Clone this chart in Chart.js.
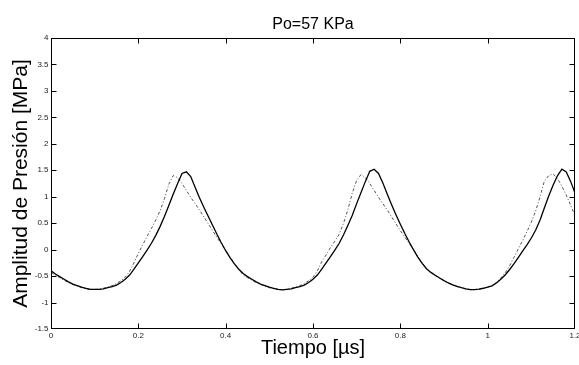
<!DOCTYPE html>
<html>
<head>
<meta charset="utf-8">
<script src="https://cdn.jsdelivr.net/npm/chart.js@4"></script>
<style>
html,body{margin:0;padding:0;background:#fff;}
canvas{display:block;}
</style>
</head>
<body>
<canvas id="c" width="579" height="365"></canvas>
<script>
const titleText = 'Po=57 KPa';
const xTitle = 'Tiempo [µs]';
const yTitle = 'Amplitud de Presión [MPa]';
const xTicks = [0, 0.2, 0.4, 0.6, 0.8, 1, 1.2];
const yTicks = [-1.5, -1, -0.5, 0, 0.5, 1, 1.5, 2, 2.5, 3, 3.5, 4];

const times = [
0.00,0.01,0.02,0.03,0.04,0.05,0.06,0.07,0.08,0.09,
0.10,0.11,0.12,0.13,0.14,0.15,0.16,0.17,0.18,0.19,
0.20,0.21,0.22,0.23,0.24,0.25,0.26,0.27,0.28,0.29,
0.30,0.31,0.32,0.33,0.34,0.35,0.36,0.37,0.38,0.39,
0.40,0.41,0.42,0.43,0.44,0.45,0.46,0.47,0.48,0.49,
0.50,0.51,0.52,0.53,0.54,0.55,0.56,0.57,0.58,0.59,
0.60,0.61,0.62,0.63,0.64,0.65,0.66,0.67,0.68,0.69,
0.70,0.71,0.72,0.73,0.74,0.75,0.76,0.77,0.78,0.79,
0.80,0.81,0.82,0.83,0.84,0.85,0.86,0.87,0.88,0.89,
0.90,0.91,0.92,0.93,0.94,0.95,0.96,0.97,0.98,0.99,
1.00,1.01,1.02,1.03,1.04,1.05,1.06,1.07,1.08,1.09,
1.10,1.11,1.12,1.13,1.14,1.15,1.16,1.17,1.18,1.19,1.20];

const solidSeries = [
-0.40,-0.46,-0.51,-0.56,-0.61,-0.65,-0.68,-0.71,-0.73,-0.75,
-0.75,-0.75,-0.74,-0.72,-0.70,-0.67,-0.62,-0.56,-0.48,-0.37,
-0.25,-0.13,-0.01,0.12,0.27,0.44,0.63,0.84,1.05,1.25,
1.44,1.47,1.38,1.18,0.98,0.80,0.63,0.46,0.29,0.13,
-0.02,-0.15,-0.27,-0.37,-0.45,-0.51,-0.56,-0.61,-0.65,-0.68,
-0.71,-0.73,-0.75,-0.76,-0.75,-0.74,-0.72,-0.70,-0.67,-0.62,
-0.56,-0.48,-0.37,-0.25,-0.13,-0.01,0.12,0.28,0.46,0.65,
0.87,1.08,1.29,1.48,1.52,1.44,1.26,1.05,0.85,0.66,
0.48,0.31,0.15,0.00,-0.14,-0.26,-0.36,-0.43,-0.485,-0.535,
-0.585,-0.63,-0.665,-0.695,-0.72,-0.74,-0.755,-0.755,-0.745,-0.73,
-0.71,-0.685,-0.63,-0.56,-0.48,-0.38,-0.27,-0.15,-0.03,0.09,
0.22,0.37,0.56,0.79,1.02,1.22,1.40,1.52,1.47,1.29,1.07];

const dashedSeries = [
-0.43,-0.48,-0.53,-0.58,-0.62,-0.66,-0.69,-0.72,-0.74,-0.75,
-0.75,-0.75,-0.73,-0.71,-0.68,-0.64,-0.59,-0.52,-0.41,-0.25,
-0.07,0.09,0.25,0.40,0.56,0.74,0.97,1.24,1.40,1.36,
1.25,1.12,0.99,0.87,0.75,0.62,0.49,0.36,0.23,0.11,
-0.01,-0.14,-0.26,-0.37,-0.48,-0.53,-0.58,-0.62,-0.66,-0.69,
-0.72,-0.74,-0.75,-0.76,-0.75,-0.73,-0.71,-0.68,-0.64,-0.59,
-0.52,-0.40,-0.23,-0.10,0.04,0.16,0.29,0.50,0.76,1.07,
1.31,1.42,1.36,1.25,1.12,0.99,0.87,0.75,0.62,0.49,
0.36,0.24,0.12,0.00,-0.13,-0.25,-0.36,-0.44,-0.49,-0.54,
-0.59,-0.63,-0.67,-0.70,-0.72,-0.74,-0.75,-0.755,-0.75,-0.73,
-0.71,-0.68,-0.62,-0.54,-0.44,-0.31,-0.15,0.01,0.17,0.34,
0.52,0.73,1.00,1.30,1.40,1.43,1.34,1.20,1.03,0.84,0.64];

const toPts = (ys) => times.map((t, i) => ({x: t, y: ys[i]}));

const framePlugin = {
  id: 'frame',
  afterDatasetsDraw(chart) {
    const {ctx, chartArea: a, scales: {x, y}} = chart;
    ctx.save();
    ctx.strokeStyle = '#000';
    ctx.lineWidth = 1;
    const L = Math.round(a.left) + 0.5, R = Math.round(a.right) - 0.5;
    const T = Math.round(a.top) + 0.5, B = Math.round(a.bottom) - 0.5;
    ctx.strokeRect(L, T, R - L, B - T);
    const tl = 5;
    const clamp = (v, lo, hi) => Math.min(hi, Math.max(lo, v));
    ctx.beginPath();
    xTicks.forEach(v => {
      const px = clamp(Math.round(x.getPixelForValue(v)) + 0.5, L, R);
      ctx.moveTo(px, B); ctx.lineTo(px, B - tl);
      ctx.moveTo(px, T); ctx.lineTo(px, T + tl);
    });
    yTicks.forEach(v => {
      const py = clamp(Math.round(y.getPixelForValue(v)) + 0.5, T, B);
      ctx.moveTo(L, py); ctx.lineTo(L + tl, py);
      ctx.moveTo(R, py); ctx.lineTo(R - tl, py);
    });
    ctx.stroke();
    ctx.restore();
  }
};

const FAMILY = 'Liberation Sans, Arial, sans-serif';
const tickFont = {family: FAMILY, size: 8};

new Chart(document.getElementById('c'), {
  type: 'line',
  data: {
    datasets: [
      {
        label: 'solid',
        data: toPts(solidSeries),
        borderColor: '#000',
        borderWidth: 1.3,
        pointRadius: 0,
        tension: 0,
        fill: false
      },
      {
        label: 'dashed',
        data: toPts(dashedSeries),
        borderColor: '#555',
        borderWidth: 1,
        borderDash: [3, 2, 1, 2],
        pointRadius: 0,
        tension: 0,
        fill: false
      }
    ]
  },
  options: {
    responsive: false,
    animation: false,
    devicePixelRatio: 1,
    layout: {padding: {left: 0, right: 4, top: 0, bottom: 0}},
    plugins: {
      legend: {display: false},
      tooltip: {enabled: false},
      title: {display: false}
    },
    scales: {
      x: {
        type: 'linear',
        position: 'bottom',
        min: 0,
        max: 1.2,
        grid: {display: false, drawTicks: false},
        border: {display: false},
        afterBuildTicks: (s) => { s.ticks = xTicks.map(v => ({value: v})); },
        afterFit: (s) => { s.height = 36; s.paddingLeft = 0; s.paddingRight = 0; },
        ticks: {
          font: tickFont, color: '#222', padding: 2,
          maxRotation: 0, autoSkip: false,
          callback: (v) => String(v)
        },
        title: {
          display: true, text: xTitle, color: '#000',
          font: {family: FAMILY, size: 20},
          padding: {top: 0, bottom: 5}
        }
      },
      xTop: {
        type: 'linear',
        position: 'top',
        min: 0,
        max: 1.2,
        grid: {display: false, drawTicks: false},
        border: {display: false},
        ticks: {display: false},
        afterFit: (s) => { s.height = 38; s.paddingLeft = 0; s.paddingRight = 0; },
        title: {
          display: true, text: titleText, color: '#000',
          font: {family: FAMILY, size: 16},
          padding: {top: 14.9, bottom: 0}
        }
      },
      y: {
        type: 'linear',
        min: -1.5,
        max: 4,
        grid: {display: false, drawTicks: false},
        border: {display: false},
        afterBuildTicks: (s) => { s.ticks = yTicks.map(v => ({value: v})); },
        afterFit: (s) => { s.width = 51; s.paddingTop = 0; s.paddingBottom = 0; },
        ticks: {
          font: tickFont, color: '#222', padding: 2.5,
          autoSkip: false,
          callback: (v) => String(v)
        },
        title: {
          display: true, text: yTitle, color: '#000',
          font: {family: FAMILY, size: 21},
          padding: {top: 8.4, bottom: 0}
        }
      }
    }
  },
  plugins: [framePlugin]
});
</script>
</body>
</html>
